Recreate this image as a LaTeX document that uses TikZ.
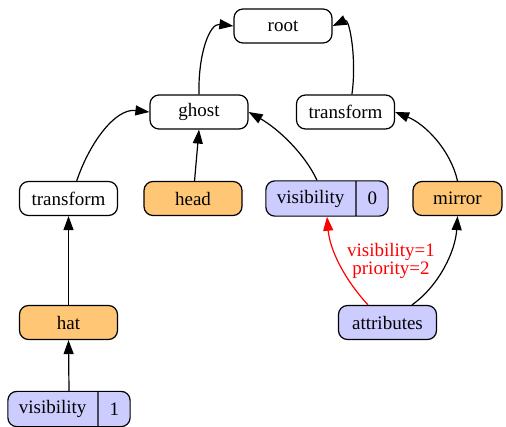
\documentclass[tikz,border=0pt]{standalone}
\usepackage{fontspec}
\setmainfont{Liberation Serif}
\usetikzlibrary{arrows.meta}
\usetikzlibrary{shapes.multipart}
\usetikzlibrary{calc}
\definecolor{recblue}{RGB}{204,204,255}
\definecolor{recorange}{RGB}{255,198,117}

\tikzset{
	box/.style={draw, line width=1.2pt, rounded corners=9pt, minimum width=98pt, minimum height=34pt, inner sep=0pt, font=\fontsize{19}{22}\selectfont},
	attr/.style={box, fill=recorange},
	rec/.style={box, fill=recblue},
	field/.style={rec, rectangle split, rectangle split horizontal, rectangle split parts=2, minimum width=0pt, inner xsep=11pt, inner ysep=9pt},
	link/.style={-{Triangle[length=14pt,width=10pt]}, line width=1.2pt},
	elabel/.style={align=center, text=red, font=\fontsize{19}{18}\selectfont}
}

\begin{document}
\begin{tikzpicture}[x=1pt, y=-1pt]
	\useasboundingbox (0,0) rectangle (506,426);
	\node [box] (root) at (283,26) {root};
	\node [box] (ghost) at (199,112) {ghost};
	\node [box] (trR) at (345.5,112) {transform};
	\node [box] (trL) at (68.5,198.5) {transform};
	\node [attr] (head) at (193,198.5) {head};
	\node [field] (vis0) at (327,198.5) {visibility \nodepart{two} 0};
	\node [attr, minimum width=89pt] (mirror) at (457.5,198.5) {mirror};
	\node [attr] (hat) at (68.5,322.5) {hat};
	\node [rec] (attrs) at (387.5,322.5) {attributes};
	\node [field] (vis1) at (69,409) {visibility \nodepart{two} 1};
	\node [elabel] (lbl) at (391,261) {visibility=1\\priority=2};
	\draw [link] (ghost.north) .. controls +(-1,-40) and +(-24,-3) .. (root.west);
	\draw [link] (trR.70) .. controls +(5,-35) and +(17,-8) .. (root.east);
	\draw [link] (trL.65) .. controls +(12,-36) and +(-35,-4) .. (ghost.west);
	\draw [link] (head.85) -- (ghost.south);
	\draw [link] ($(vis0.north)+(-10,0)$) .. controls +(-12,-26) and +(30,17) .. (ghost.east);
	\draw [link] (mirror.north) .. controls +(-7,-31) and +(30,12) .. (trR.east);
	\draw [link] (hat.north) -- (trL.south);
	\draw [link] (vis1.north) -- (hat.south);
	\draw [link, color=red] ($(attrs.north)+(-19.5,0)$) .. controls +(-23,-25) and +(3,34) .. (vis0.south);
	\draw [link] ($(attrs.north)+(24.5,0)$) .. controls +(28,-20) and +(-2,34) .. (mirror.south);
\end{tikzpicture}
\end{document}
